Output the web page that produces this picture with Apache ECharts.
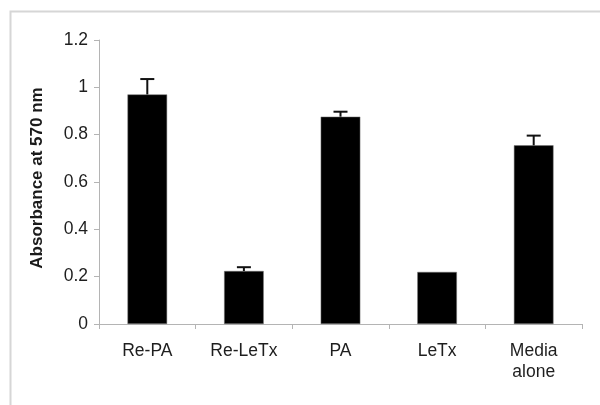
<!DOCTYPE html>
<html>
<head>
<meta charset="utf-8">
<script src="https://cdn.jsdelivr.net/npm/echarts@6/dist/echarts.min.js"></script>
<style>html,body{margin:0;padding:0;background:#fff;}#c{width:600px;height:405px;}</style>
</head>
<body>
<div id="c"></div>
<script>
var categories = ['Re-PA', 'Re-LeTx', 'PA', 'LeTx', 'Media\nalone'];
var values = [0.970, 0.224, 0.876, 0.220, 0.755];
var errors = [0.065, 0.016, 0.021, 0, 0.041];
var yTicks = [0, 0.2, 0.4, 0.6, 0.8, 1, 1.2];

var chart = echarts.init(document.getElementById('c'), null, {renderer: 'canvas'});
var errData = values.map(function (v, i) { return [i, v, v + errors[i]]; });
var font = 'Liberation Sans, Arial, sans-serif';

chart.setOption({
  animation: false,
  backgroundColor: '#fff',
  graphic: [{
    type: 'rect', left: 8, top: 9, z: -10,
    shape: {width: 620, height: 420},
    style: {fill: 'none', stroke: '#d6d6d6', lineWidth: 2}
  }],
  grid: {left: 99, right: 18, top: 40, bottom: 81},
  xAxis: {
    type: 'category',
    data: categories,
    axisLine: {lineStyle: {color: '#b4b4b4', width: 1}},
    axisTick: {show: true, alignWithLabel: false, length: 5, lineStyle: {color: '#b4b4b4'}},
    axisLabel: {color: '#1e1e1e', fontSize: 17.5, fontFamily: font, margin: 17, lineHeight: 21, interval: 0}
  },
  yAxis: {
    type: 'value',
    min: 0, max: 1.2, interval: 0.2,
    name: 'Absorbance at 570 nm',
    nameLocation: 'middle',
    nameGap: 53,
    nameTextStyle: {color: '#1a1a1a', fontSize: 17, fontWeight: 'bold', fontFamily: font, padding: [0, 0, 0, 8]},
    splitLine: {show: false},
    axisLine: {show: true, lineStyle: {color: '#b4b4b4', width: 1}},
    axisTick: {show: true, length: 5, lineStyle: {color: '#b4b4b4'}},
    axisLabel: {color: '#1e1e1e', fontSize: 17.5, fontFamily: font, margin: 11,
      formatter: function (v) { return String(Math.round(v * 10) / 10); }}
  },
  series: [{
    type: 'bar',
    data: values,
    barWidth: '41%',
    itemStyle: {color: '#000', borderColor: '#777', borderWidth: 0.5}
  }, {
    type: 'custom',
    data: errData,
    z: 5,
    renderItem: function (params, api) {
      var i = api.value(0);
      var lo = api.coord([i, api.value(1)]);
      var hi = api.coord([i, api.value(2)]);
      if (api.value(2) - api.value(1) <= 0) return {type: 'group', children: []};
      var hw = 7;
      var st = {stroke: '#111', lineWidth: 2};
      return {type: 'group', children: [
        {type: 'line', shape: {x1: lo[0], y1: lo[1], x2: hi[0], y2: hi[1]}, style: st},
        {type: 'line', shape: {x1: hi[0] - hw, y1: hi[1], x2: hi[0] + hw, y2: hi[1]}, style: st}
      ]};
    }
  }]
});
</script>
</body>
</html>
